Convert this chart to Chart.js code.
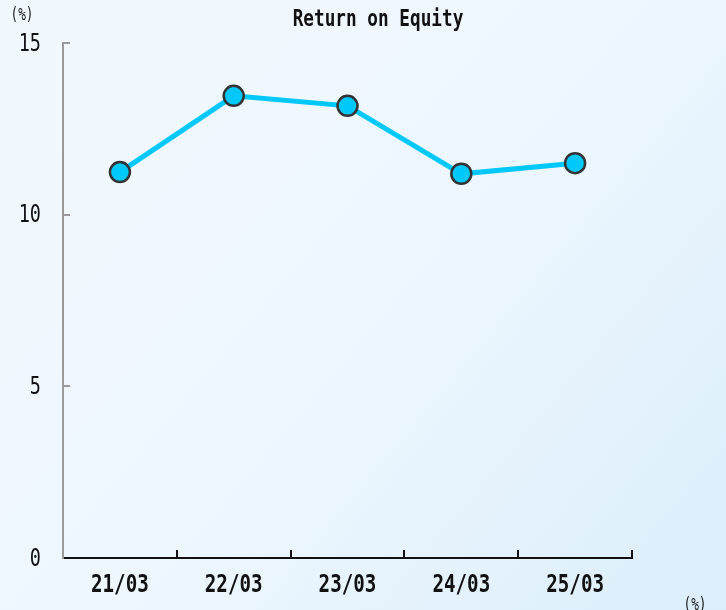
<!DOCTYPE html>
<html>
<head>
<meta charset="utf-8">
<script src="https://cdn.jsdelivr.net/npm/chart.js@4/dist/chart.umd.min.js"></script>
<style>
  html, body { margin: 0; padding: 0; }
  #wrap { width: 726px; height: 610px; position: relative; }
</style>
</head>
<body>
<div id="wrap"><canvas id="roe"></canvas></div>
<script>
// data
const years = ['21/03', '22/03', '23/03', '24/03', '25/03'];
const roeValues = [11.24, 13.46, 13.17, 11.19, 11.5];
const yTicks = [0, 5, 10, 15];

const FONT = '"DejaVu Sans Mono", monospace';

// the original uses a tall narrow monospace font, so text is squeezed horizontally
function squeezed(ctx, text, x, y, font, align, sx) {
  ctx.save();
  ctx.translate(x, y);
  ctx.scale(sx, 1);
  ctx.font = font;
  ctx.textAlign = align;
  ctx.textBaseline = 'middle';
  ctx.fillText(text, 0, 0);
  ctx.restore();
}

// background gradient, title, labels and small inner tick marks
const decor = {
  id: 'decor',
  beforeDraw(chart) {
    const ctx = chart.ctx;
    const w = chart.width, h = chart.height;
    const g = ctx.createLinearGradient(0, 0, w, h);
    g.addColorStop(0, '#f2f9fe');
    g.addColorStop(0.5, '#eef7fe');
    g.addColorStop(1, '#dbeefb');
    ctx.save();
    ctx.fillStyle = g;
    ctx.fillRect(0, 0, w, h);
    ctx.restore();
  },
  afterDraw(chart) {
    const ctx = chart.ctx;
    const x = chart.scales.x, y = chart.scales.y;
    const area = chart.chartArea;
    ctx.save();
    // y tick marks (grey, pointing right)
    ctx.strokeStyle = '#9a9a9a';
    ctx.lineWidth = 2;
    yTicks.slice(1).forEach(v => {
      const py = Math.round(y.getPixelForValue(v));
      ctx.beginPath();
      ctx.moveTo(area.left, py);
      ctx.lineTo(area.left + 7, py);
      ctx.stroke();
    });
    // x tick marks (black, pointing up) at category boundaries
    ctx.strokeStyle = '#111';
    const step = x.getPixelForValue(1) - x.getPixelForValue(0);
    years.forEach((c, i) => {
      const px = Math.round(x.getPixelForValue(i) + step / 2);
      ctx.beginPath();
      ctx.moveTo(px, area.bottom);
      ctx.lineTo(px, area.bottom - 8);
      ctx.stroke();
    });

    // tick labels
    ctx.fillStyle = '#111';
    yTicks.forEach(v => {
      squeezed(ctx, String(v), 41, y.getPixelForValue(v) + 1, '25px ' + FONT, 'right', 0.74);
    });
    years.forEach((c, i) => {
      squeezed(ctx, c, x.getPixelForValue(i), 586, 'bold 24px ' + FONT, 'center', 0.8);
    });

    // title and unit labels
    squeezed(ctx, 'Return on Equity', 378, 20, 'bold 23px ' + FONT, 'center', 0.77);
    ctx.fillStyle = '#222';
    squeezed(ctx, '(%)', 22, 16, '17px ' + FONT, 'center', 0.75);
    squeezed(ctx, '(%)', 695, 606, '17px ' + FONT, 'center', 0.75);
    ctx.restore();
  }
};

new Chart(document.getElementById('roe'), {
  type: 'line',
  data: {
    labels: years,
    datasets: [{
      label: 'ROE',
      data: roeValues,
      borderColor: '#00c8fb',
      borderWidth: 5,
      pointRadius: 10,
      pointHoverRadius: 10,
      pointBackgroundColor: '#00c8fb',
      pointBorderColor: '#333',
      pointBorderWidth: 2.5,
      tension: 0
    }]
  },
  options: {
    responsive: true,
    maintainAspectRatio: false,
    animation: false,
    layout: { padding: { top: 43, right: 94, left: 0, bottom: 0 } },
    plugins: { legend: { display: false }, tooltip: { enabled: false } },
    scales: {
      x: {
        offset: true,
        grid: { display: false, drawTicks: false },
        border: { display: true, color: '#111', width: 2 },
        ticks: { display: false },
        afterFit(s) { s.height = 52; }
      },
      y: {
        min: 0,
        max: 15,
        grid: { display: false, drawTicks: false },
        border: { display: true, color: '#9a9a9a', width: 2 },
        ticks: { display: false, stepSize: 5 },
        afterFit(s) { s.width = 63; }
      }
    }
  },
  plugins: [decor]
});
</script>
</body>
</html>
